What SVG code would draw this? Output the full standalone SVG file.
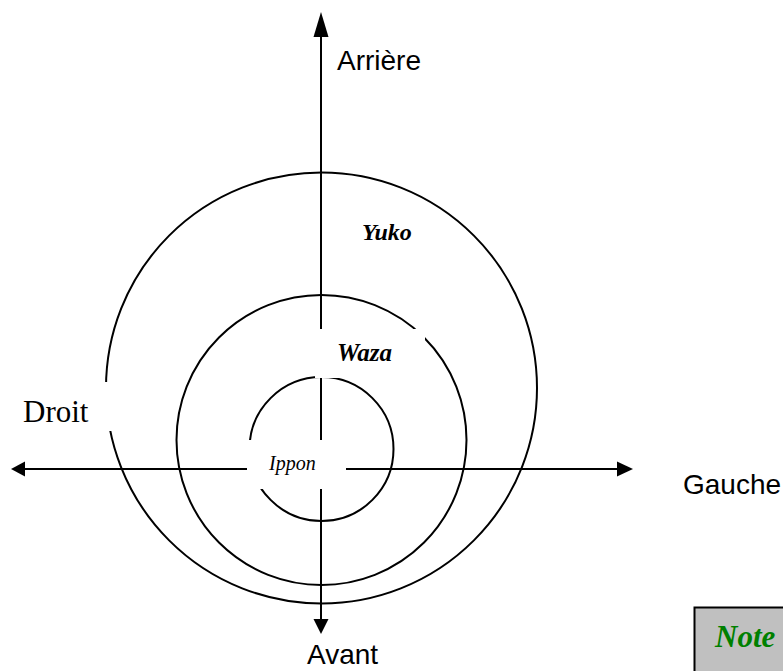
<svg xmlns="http://www.w3.org/2000/svg" width="783" height="671" viewBox="0 0 783 671">
<style>
.ring{fill:none;stroke:#000;stroke-width:2}
.axis{fill:none;stroke:#000;stroke-width:2}
.head{fill:#000;stroke:none}
.box{fill:#fff;stroke:none}
.sans{font-family:"Liberation Sans",Arial,sans-serif;font-size:28px;fill:#000}
.serif{font-family:"Liberation Serif","Times New Roman",serif;fill:#000}
</style>
<rect width="783" height="671" fill="#fff"/>
<g id="rings">
<circle id="ring-yuko" class="ring" cx="321.5" cy="388" r="215.5"/>
<circle id="ring-waza" class="ring" cx="321.5" cy="440" r="145"/>
<circle id="ring-ippon" class="ring" cx="321.5" cy="449" r="72"/>
</g>
<g id="connectors">
<line class="axis" x1="321" y1="30" x2="321" y2="620"/>
<polygon class="head" points="321,12 313.5,37 328.5,37"/>
<polygon class="head" points="321,634 313.5,619 328.5,619"/>
<line class="axis" x1="24" y1="469" x2="619" y2="469"/>
<polygon class="head" points="11,469 25,461.5 25,476.5"/>
<polygon class="head" points="633,469 617,461.5 617,476.5"/>
</g>
<g id="droit">
<rect class="box" x="15" y="382" width="97" height="49"/>
<text class="serif" x="23" y="422" font-size="31">Droit</text>
</g>
<g id="waza">
<rect class="box" x="315" y="329" width="110" height="49"/>
<text class="serif" x="337" y="361" font-size="25" font-style="italic" font-weight="bold">Waza</text>
</g>
<g id="ippon">
<rect class="box" x="247" y="440" width="99" height="49"/>
<text class="serif" x="269" y="470" font-size="20" font-style="italic">Ippon</text>
</g>
<g id="yuko">
<text class="serif" x="362" y="240" font-size="24" font-style="italic" font-weight="bold">Yuko</text>
</g>
<g id="arriere">
<text class="sans" x="337" y="70">Arrière</text>
</g>
<g id="gauche">
<text class="sans" x="683" y="494">Gauche</text>
</g>
<g id="avant">
<text class="sans" x="307" y="664">Avant</text>
</g>
<g id="note">
<rect x="694.5" y="607.5" width="100" height="80" fill="#c0c0c0" stroke="#000" stroke-width="2"/>
<text class="serif" x="715" y="647" font-size="31" font-style="italic" font-weight="bold" style="fill:#008000">Note</text>
</g>
</svg>
